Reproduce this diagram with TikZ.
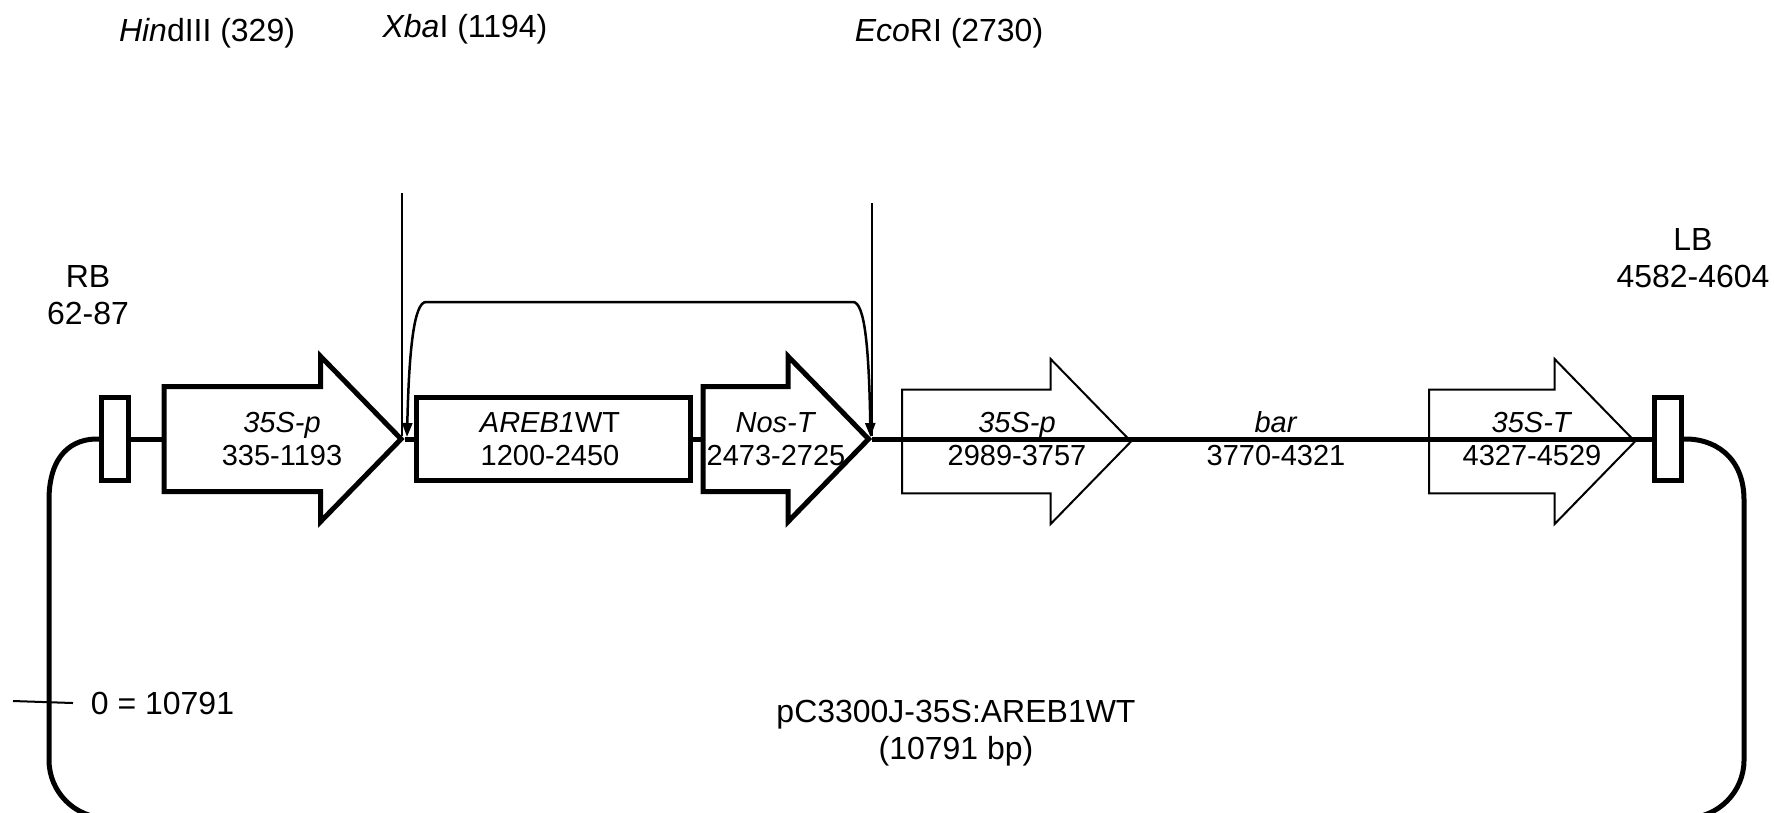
\documentclass[tikz,border=0pt]{standalone}
\usepackage{fontspec}
\setmainfont{Liberation Sans}
\usetikzlibrary{arrows.meta,shapes.arrows}

\begin{document}
\begin{tikzpicture}[
  x=0.1mm, y=-0.1mm,
  border/.style={rectangle, draw, line width=0.5mm, inner sep=0pt,
                 minimum width=2.65mm, minimum height=8.25mm},
  orfbox/.style={rectangle, draw, line width=0.5mm, inner sep=0pt,
                 minimum width=27.4mm, minimum height=8.25mm},
  genearrow/.style={single arrow, draw, anchor=tail, inner sep=0pt, text height=8.25mm, text depth=0pt,
                    single arrow tip angle=91.5, minimum width=16.5mm},
  boldarrow/.style={genearrow, line width=0.5mm},
  thinarrow/.style={genearrow, line width=0.2mm},
  backbone/.style={line width=0.5mm},
  site/.style={line width=0.2mm},
  span/.style={{Triangle[length=1.4mm,width=1mm]}-{Triangle[length=1.4mm,width=1mm]}, line width=0.25mm},
  inlabel/.style={anchor=base, align=center, inner sep=0pt, font=\fontsize{8.25}{9.4}\selectfont},
  outlabel/.style={anchor=base, align=center, inner sep=0pt, font=\fontsize{9.1}{10.5}\selectfont},
]
  \useasboundingbox (0,0) rectangle (1774,812);

  % elements of the T-DNA
  \node[border] (rb) at (115,439) {};
  \node[boldarrow, minimum height=23.7mm] (pro1) at (161.6,439) {};
  \node[orfbox] (areb) at (553,439) {};
  \node[boldarrow, minimum height=16.55mm] (nos) at (700.6,439) {};
  \node[thinarrow, minimum height=22.9mm] (pro2) at (901,441.5) {};
  \node[thinarrow, minimum height=20.6mm] (term) at (1428,441.5) {};
  \node[border] (lb) at (1668,439) {};

  % backbone
  \draw[backbone] (rb.east) -- (pro1.tail);
  \draw[backbone] (pro1.tip) -- (areb.west);
  \draw[backbone] (areb.east) -- (nos.tail);
  \draw[backbone] (nos.tip) -- (lb.west);
  \draw[backbone] (rb.west) .. controls (72,438) and (49,455) .. (49,500) -- (49,760)
    arc[start angle=180, end angle=270, radius=5.8mm] -- (1686,818)
    arc[start angle=270, end angle=360, radius=5.8mm] -- (1744,500)
    .. controls (1744,455) and (1712,438) .. (lb.east);

  % restriction sites
  \coordinate (xbatop) at (402,193);
  \coordinate (xbacut) at (402,436);
  \coordinate (ecotop) at (871.5,203);
  \coordinate (ecocut) at (871.5,436);
  \coordinate (spanl) at (407,437);
  \coordinate (spanr) at (870.5,437);
  \draw[site] (xbatop) -- (xbacut);
  \draw[site] (ecotop) -- (ecocut);
  \draw[span] (spanl) .. controls (409,350) and (414,302) .. (426,302) -- (853,302)
    .. controls (865,302) and (869,350) .. (spanr);

  \node[outlabel] (hind) at (207,41) {\textit{Hin}dIII (329)};
  \node[outlabel] (xba) at (465,37.5) {\textit{Xba}I (1194)};
  \node[outlabel] (eco) at (949,41) {\textit{Eco}RI (2730)};

  \node[outlabel] (rblab) at (88,324) {RB\\62-87};
  \node[outlabel] (lblab) at (1693,287) {LB\\4582-4604};

  \node[inlabel] (pro1lab) at (282,465.5) {\textit{35S-p}\\335-1193};
  \node[inlabel] (areblab) at (550,465.5) {\textit{AREB1}WT\\1200-2450};
  \node[inlabel] (noslab) at (776,465.5) {\textit{Nos-T}\\2473-2725};
  \node[inlabel] (pro2lab) at (1017,465.5) {\textit{35S-p}\\2989-3757};
  \node[inlabel] (barlab) at (1276,465.5) {\textit{bar}\\3770-4321};
  \node[inlabel] (termlab) at (1532,465.5) {\textit{35S-T}\\4327-4529};

  % origin of the numbering
  \coordinate (tickl) at (13,701);
  \coordinate (tickr) at (73,703);
  \draw[line width=0.2mm] (tickl) -- (tickr);
  \node[outlabel] (zero) at (162.5,714) {0 = 10791};
  \node[outlabel] (name) at (956,759) {pC3300J-35S:AREB1WT\\(10791 bp)};
\end{tikzpicture}
\end{document}
